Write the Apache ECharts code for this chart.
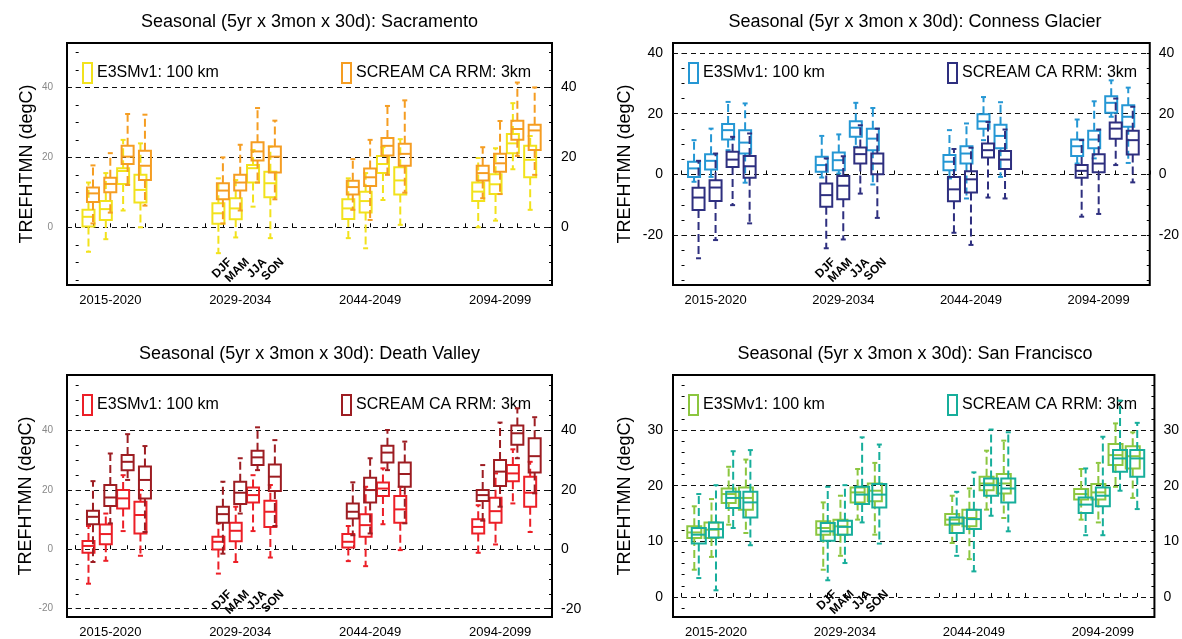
<!DOCTYPE html>
<html><head><meta charset="utf-8">
<script src="https://cdn.jsdelivr.net/npm/echarts@6/dist/echarts.min.js"></script>
<style>html,body{margin:0;padding:0;background:#fff}#c{width:1182px;height:639px}</style>
</head><body><div id="c"></div>
<script>
// ---------------- data ----------------
const periods = ['2015-2020', '2029-2034', '2044-2049', '2094-2099'];
const seasons = ['DJF', 'MAM', 'JJA', 'SON'];
const stations = ['Sacramento', 'Conness Glacier', 'Death Valley', 'San Francisco'];
const modelNames = ['E3SMv1: 100 km', 'SCREAM CA RRM: 3km'];

// each box: [min, q1, median, q3, max]; order: period by period, seasons DJF, MAM, JJA, SON
const sacE3SM = [
  [-7.0, 0.2, 3.0, 5.0, 12.8], [-3.4, 2.1, 5.2, 7.5, 15.5], [4.8, 12.4, 16.1, 16.9, 25.0], [0.0, 7.1, 10.7, 15.0, 24.0],
  [-7.4, 1.0, 4.0, 6.9, 14.0], [-2.9, 2.3, 5.4, 8.3, 13.5], [5.9, 12.8, 16.9, 17.8, 22.1], [-3.1, 8.6, 12.6, 15.9, 23.1],
  [-3.1, 2.4, 5.4, 8.0, 14.0], [-6.0, 4.2, 7.5, 10.2, 15.5], [7.8, 15.5, 18.1, 20.4, 22.9], [0.7, 9.4, 13.4, 17.2, 25.2],
  [0.0, 7.5, 10.2, 12.8, 19.8], [1.9, 9.5, 12.3, 15.2, 22.6], [16.6, 21.2, 24.0, 26.7, 35.5], [5.0, 14.3, 19.3, 23.3, 26.1]
];
const sacSCREAM = [
  [1.1, 7.2, 9.7, 11.4, 17.7], [4.2, 10.0, 12.4, 14.2, 21.2], [12.1, 18.1, 20.2, 23.3, 32.4], [6.2, 13.5, 17.6, 21.9, 32.2],
  [1.1, 8.0, 10.5, 12.6, 20.0], [4.8, 10.5, 12.8, 15.0, 23.6], [12.8, 19.1, 21.7, 24.3, 34.1], [8.0, 15.7, 20.2, 23.1, 30.5],
  [5.0, 9.4, 11.5, 13.3, 19.5], [2.1, 11.8, 14.3, 16.8, 25.0], [15.0, 20.5, 23.3, 25.5, 34.7], [9.9, 17.6, 21.0, 23.9, 36.3],
  [8.3, 13.4, 15.5, 17.6, 22.9], [9.5, 15.9, 18.3, 21.0, 30.4], [20.4, 25.0, 28.1, 30.5, 41.4], [15.0, 22.1, 27.7, 29.3, 40.0]
];
const conE3SM = [
  [-2.4, -0.8, 2.0, 4.2, 11.3], [-0.8, 1.6, 4.5, 6.7, 15.1], [8.0, 11.5, 14.6, 16.6, 23.9], [-2.7, 6.9, 10.5, 14.6, 23.4],
  [-1.0, 0.9, 3.1, 5.8, 12.7], [0.3, 1.4, 4.7, 7.2, 13.2], [9.1, 12.4, 15.4, 17.5, 23.6], [-3.3, 8.0, 11.8, 15.1, 21.9],
  [-1.3, 1.4, 4.2, 6.4, 14.6], [-7.9, 3.6, 6.9, 9.3, 16.8], [11.3, 15.1, 17.5, 19.8, 25.5], [-0.8, 8.6, 12.7, 16.4, 23.8],
  [3.6, 6.1, 9.3, 11.5, 18.1], [5.3, 8.6, 11.5, 14.4, 24.1], [19.0, 20.3, 23.6, 25.8, 31.0], [3.8, 15.7, 19.0, 22.8, 28.6]
];
const conSCREAM = [
  [-27.6, -11.7, -7.6, -4.4, 4.5], [-21.6, -8.7, -4.3, -1.9, 6.9], [-10.1, 2.5, 4.9, 7.5, 12.4], [-16.1, -1.1, 2.7, 6.1, 13.5],
  [-24.3, -10.6, -6.8, -3.0, 5.3], [-21.4, -8.2, -3.7, -0.5, 6.0], [-6.3, 3.6, 6.7, 8.9, 16.2], [-14.3, 0.1, 3.6, 6.9, 15.1],
  [-19.2, -8.8, -4.9, -0.8, 8.4], [-23.2, -5.9, -1.6, 1.1, 8.8], [-7.6, 5.6, 8.0, 10.2, 17.3], [-7.9, 1.8, 4.9, 7.7, 14.8],
  [-13.9, -1.1, 1.2, 3.1, 11.3], [-13.0, 0.7, 3.6, 6.7, 14.8], [3.1, 11.8, 15.1, 17.1, 25.0], [-2.6, 6.6, 11.3, 14.4, 22.3]
];
const dvE3SM = [
  [-11.6, -1.2, 1.1, 2.8, 7.8], [-3.9, 1.7, 5.1, 8.3, 12.0], [6.1, 13.7, 17.1, 19.9, 24.9], [-2.2, 5.3, 11.5, 16.0, 19.9],
  [-8.2, -0.1, 2.5, 4.2, 8.7], [-4.3, 2.7, 6.2, 8.9, 14.3], [6.1, 15.7, 18.2, 20.8, 24.9], [-2.8, 7.5, 12.6, 16.3, 21.6],
  [-4.0, 0.6, 2.5, 5.1, 7.8], [-5.7, 4.2, 8.1, 11.8, 21.0], [8.4, 17.9, 20.4, 22.4, 27.2], [-0.3, 8.9, 13.4, 17.9, 21.0],
  [-1.2, 5.3, 7.5, 10.1, 14.8], [1.6, 8.9, 12.8, 17.3, 25.5], [15.4, 22.9, 25.5, 28.3, 33.6], [5.8, 14.3, 19.0, 24.4, 29.4]
];
const dvSCREAM = [
  [-4.3, 8.4, 10.9, 12.9, 22.9], [8.7, 14.5, 17.4, 21.6, 32.2], [23.3, 26.6, 29.4, 31.7, 38.7], [5.8, 17.1, 23.3, 27.8, 34.7],
  [-1.5, 8.9, 11.8, 14.3, 22.7], [12.0, 15.2, 19.0, 22.7, 30.6], [26.6, 28.3, 30.9, 33.1, 41.0], [7.8, 19.6, 24.4, 28.5, 36.7],
  [4.7, 10.3, 12.6, 15.4, 22.5], [5.3, 15.7, 19.9, 24.0, 30.6], [26.6, 29.2, 32.5, 34.8, 40.1], [8.7, 21.0, 25.3, 29.2, 36.2],
  [9.6, 16.2, 18.2, 19.9, 28.3], [14.3, 21.3, 26.1, 30.0, 42.6], [30.6, 35.1, 39.0, 41.6, 47.4], [18.8, 25.8, 31.3, 37.3, 44.4]
];
const sfE3SM = [
  [4.9, 10.6, 11.6, 12.7, 16.3], [7.2, 10.6, 12.1, 13.4, 17.6], [13.0, 16.9, 18.5, 19.5, 23.4], [11.5, 15.7, 17.8, 19.7, 24.7],
  [4.9, 11.2, 12.4, 13.6, 17.0], [7.4, 11.2, 12.7, 13.9, 18.2], [13.9, 17.0, 18.8, 19.7, 23.0], [11.2, 17.2, 19.1, 20.4, 24.1],
  [9.7, 13.0, 13.9, 14.9, 18.2], [6.8, 12.7, 14.2, 15.7, 19.5], [15.7, 19.2, 20.4, 21.6, 26.3], [14.2, 18.6, 20.4, 22.1, 28.1],
  [13.9, 17.5, 18.5, 19.4, 23.0], [13.4, 17.5, 18.8, 20.3, 24.1], [19.8, 23.7, 25.5, 27.5, 31.2], [17.8, 23.1, 25.3, 27.1, 29.6]
];
const sfSCREAM = [
  [3.4, 9.6, 11.2, 12.4, 18.5], [1.2, 10.7, 12.2, 13.4, 20.1], [12.4, 16.0, 17.8, 18.9, 26.2], [9.3, 14.3, 17.0, 18.9, 26.4],
  [3.0, 10.1, 11.8, 13.3, 19.8], [6.1, 11.2, 12.6, 13.7, 20.1], [13.4, 16.7, 18.4, 19.8, 28.7], [9.6, 16.1, 18.4, 20.3, 27.4],
  [7.4, 11.5, 13.2, 14.3, 18.9], [4.6, 12.2, 14.0, 15.7, 22.4], [14.6, 18.2, 20.1, 21.3, 30.1], [11.8, 17.0, 19.5, 21.3, 29.6],
  [11.1, 15.1, 16.6, 17.9, 23.1], [11.1, 16.3, 18.2, 19.7, 28.8], [19.1, 22.5, 24.9, 26.4, 35.3], [15.8, 21.6, 24.9, 26.4, 31.3]
];
// y-axis extents and label steps for each panel
const yRanges = [[-16.5, 52.7], [-36.4, 43.3], [-22.8, 58.6], [-3.6, 39.9]];
const yLabelSteps = [20, 20, 20, 10];
const yMinorSteps = [5, 5, 5, 2];

// ---------------- style / layout ----------------
const FONT = "'Liberation Sans', Arial, Helvetica, sans-serif";
const panelData = [[sacE3SM, sacSCREAM], [conE3SM, conSCREAM], [dvE3SM, dvSCREAM], [sfE3SM, sfSCREAM]];
const colors = [['#f2e21c', '#f59d22'], ['#2597d4', '#2e2f7f'], ['#ec1f27', '#9d1d22'], ['#8cc63f', '#17ae9b']];
const boxW = [12, 12, 12, 14];
const grids = [
  { left: 67, top: 43, width: 485, height: 242 },
  { left: 673, top: 43, width: 484, height: 242 },
  { left: 67, top: 375, width: 485, height: 242 },
  { left: 673, top: 375, width: 484, height: 242 }
];
const GROUP = 7.5;
const seasonX = (g, s) => g * GROUP + 1 + s;

function multiples(min, max, step) {
  const out = [];
  for (let v = Math.ceil(min / step) * step; v <= max + 1e-9; v += step) out.push(Math.round(v * 100) / 100);
  return out;
}

function boxRenderer(color, width, offset) {
  return function (params, api) {
    const x = api.value(0);
    const lo = api.coord([x, api.value(1)]);
    const q1 = api.coord([x, api.value(2)]);
    const md = api.coord([x, api.value(3)]);
    const q3 = api.coord([x, api.value(4)]);
    const hi = api.coord([x, api.value(5)]);
    const cx = lo[0] + offset;
    const hw = width / 2;
    const dashed = { stroke: color, lineWidth: 2, lineDash: [8, 4] };
    const solid = { stroke: color, lineWidth: 2, fill: 'none' };
    return {
      type: 'group',
      children: [
        { type: 'line', shape: { x1: cx, y1: q3[1], x2: cx, y2: hi[1] }, style: dashed },
        { type: 'line', shape: { x1: cx, y1: q1[1], x2: cx, y2: lo[1] }, style: dashed },
        { type: 'line', shape: { x1: cx - 2.5, y1: hi[1], x2: cx + 2.5, y2: hi[1] }, style: solid },
        { type: 'line', shape: { x1: cx - 2.5, y1: lo[1], x2: cx + 2.5, y2: lo[1] }, style: solid },
        { type: 'rect', shape: { x: cx - hw, y: q3[1], width: width, height: q1[1] - q3[1] }, style: solid },
        { type: 'line', shape: { x1: cx - hw, y1: md[1], x2: cx + hw, y2: md[1] }, style: solid }
      ]
    };
  };
}

const option = {
  animation: false,
  backgroundColor: '#fff',
  textStyle: { fontFamily: FONT },
  title: [], grid: [], xAxis: [], yAxis: [], legend: [], series: []
};

const xTicks = [];
for (let g = 0; g < periods.length; g++) for (let k = 0; k <= 5; k++) xTicks.push(g * GROUP + k);
const xLabelVals = periods.map((p, g) => g * GROUP + 2);

grids.forEach((gr, p) => {
  const [ymin, ymax] = yRanges[p];
  const labelVals = multiples(ymin, ymax, yLabelSteps[p]);
  const tickVals = multiples(ymin, ymax, yMinorSteps[p]);
  const isLeftCol = (p % 2 === 0);

  option.grid.push({ left: gr.left, top: gr.top, width: gr.width, height: gr.height, show: true,
    borderColor: '#000', borderWidth: 2, backgroundColor: 'rgba(0,0,0,0)' });

  option.title.push({
    text: 'Seasonal (5yr x 3mon x 30d): ' + stations[p],
    left: gr.left + gr.width / 2, top: gr.top - 31, textAlign: 'center', padding: 0,
    textStyle: { fontSize: 18, fontWeight: 'normal', color: '#000', fontFamily: FONT, lineHeight: 20 }
  });

  option.xAxis.push({
    type: 'value', gridIndex: p, min: -0.5, max: periods.length * GROUP - 2.5,
    axisLine: { show: false },
    axisTick: { show: true, inside: true, length: 4, customValues: xTicks, lineStyle: { color: '#000', width: 1 } },
    axisLabel: { show: true, customValues: xLabelVals, margin: 9, fontSize: 13, color: '#000', fontFamily: FONT,
      formatter: v => periods[xLabelVals.indexOf(v)] || '' },
    splitLine: { show: false }
  });

  option.yAxis.push({
    type: 'value', gridIndex: p, position: 'left', min: ymin, max: ymax,
    name: 'TREFHTMN (degC)', nameLocation: 'middle', nameRotate: 90, nameGap: isLeftCol ? 31 : 39,
    nameTextStyle: { fontSize: 18, color: '#000', fontFamily: FONT },
    axisLine: { show: false },
    axisTick: { show: true, inside: true, length: 3, customValues: tickVals, lineStyle: { color: '#000' } },
    axisLabel: { show: true, customValues: labelVals, margin: isLeftCol ? 14 : 10,
      fontSize: isLeftCol ? 10 : 14, color: isLeftCol ? '#888' : '#000', fontFamily: FONT },
    splitLine: { show: false }
  });
  option.yAxis.push({
    type: 'value', gridIndex: p, position: 'right', min: ymin, max: ymax,
    axisLine: { show: false },
    axisTick: { show: true, inside: true, length: 3, customValues: tickVals, lineStyle: { color: '#000' } },
    axisLabel: { show: true, customValues: labelVals, margin: 9, fontSize: 14, color: '#000', fontFamily: FONT },
    splitLine: { show: false }
  });

  // dashed reference lines at labelled values
  option.series.push({
    type: 'line', name: 'ref' + p, xAxisIndex: p, yAxisIndex: 2 * p, data: [], silent: true,
    markLine: { silent: true, symbol: ['none', 'none'], label: { show: false }, animation: false, z: 1,
      lineStyle: { type: [5, 4], color: '#111', width: 1 },
      emphasis: { disabled: true },
      data: labelVals.map(v => ({ yAxis: v })) }
  });

  // boxes
  panelData[p].forEach((boxes, m) => {
    const id = stations[p] + ' ' + m;
    const data = boxes.map((b, i) => [seasonX(Math.floor(i / 4), i % 4), b[0], b[1], b[2], b[3], b[4]]);
    option.series.push({
      type: 'custom', name: id, xAxisIndex: p, yAxisIndex: 2 * p, z: 3 + m,
      itemStyle: { color: colors[p][m] },
      renderItem: boxRenderer(colors[p][m], boxW[p], m === 0 ? -4.5 : 0),
      encode: { x: 0, y: [1, 2, 3, 4, 5] },
      data: data
    });
    option.legend.push({
      left: gr.left + (m === 0 ? 15 : 274), top: gr.top + 19, padding: 0,
      itemWidth: 9, itemHeight: 20, selectedMode: false,
      data: [{ name: id, icon: 'rect', itemStyle: { color: 'rgba(0,0,0,0)', borderColor: colors[p][m], borderWidth: 2 } }],
      formatter: () => modelNames[m],
      textStyle: { fontSize: 16, color: '#000', fontFamily: FONT }
    });
  });

  // season labels under the second period group
  option.series.push({
    type: 'custom', name: 'seasons' + p, xAxisIndex: p, yAxisIndex: 2 * p, silent: true, z: 6,
    data: seasons.map((s, i) => [seasonX(1, i)]),
    encode: { x: 0 },
    renderItem: function (params, api) {
      const pt = api.coord([api.value(0), ymin]);
      return { type: 'text', x: pt[0] + 3, y: pt[1] - 29, rotation: Math.PI / 4,
        style: { text: seasons[params.dataIndex], align: 'right', verticalAlign: 'top',
          font: 'bold 12px ' + FONT, fill: '#000' } };
    }
  });
});

const chart = echarts.init(document.getElementById('c'), null, { renderer: 'canvas' });
chart.setOption(option);
</script></body></html>
